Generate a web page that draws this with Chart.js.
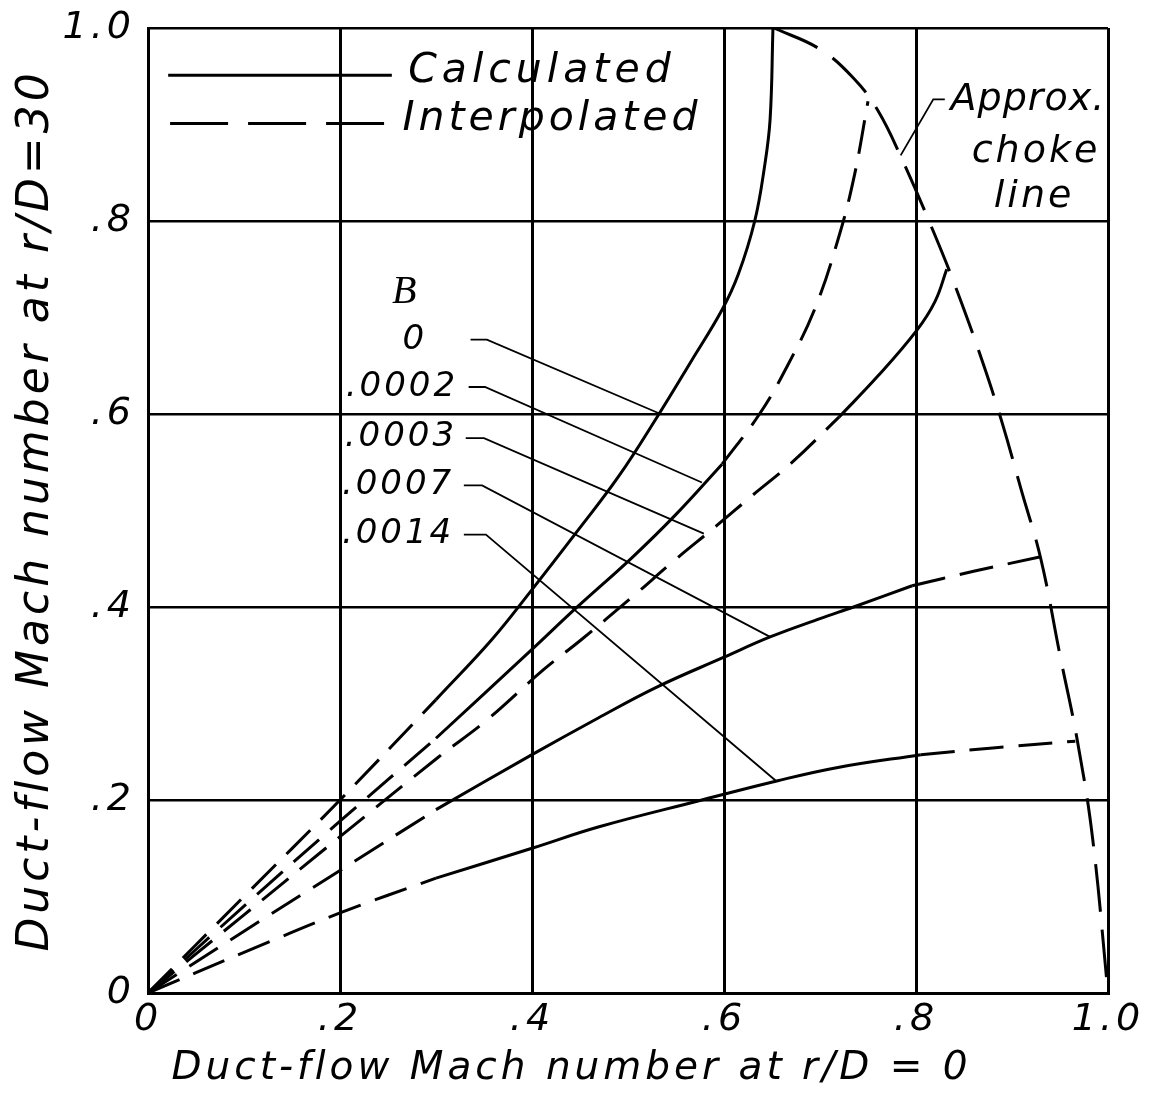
<!DOCTYPE html>
<html>
<head>
<meta charset="utf-8">
<title>Duct-flow Mach number at r/D = 30 vs r/D = 0</title>
<script src="https://cdn.jsdelivr.net/npm/chart.js@4.4.1/dist/chart.umd.min.js"></script>
<style>
  html, body { margin: 0; padding: 0; background: #fff; }
</style>
</head>
<body>
<canvas id="chart" width="1156" height="1094"></canvas>
<script>
// tick labels as lettered on the drawing
const xTickLabels = ["0", ".2", ".4", ".6", ".8", "1.0"];
const yTickLabels = ["0", ".2", ".4", ".6", ".8", "1.0"];

// B values labelling the curve family
const bLabels = ["0", ".0002", ".0003", ".0007", ".0014"];

// [x, y] pairs
// x = duct-flow Mach number at r/D = 0, y = at r/D = 30
const b0Interp = [[0, 0], [0.1, 0.1], [0.2, 0.2], [0.3, 0.304]];
const b0Calc = [[0.3, 0.304], [0.358, 0.366], [0.4, 0.418], [0.446, 0.477], [0.49, 0.535],
  [0.531, 0.598], [0.566, 0.655], [0.598, 0.708], [0.615, 0.745],
  [0.632, 0.8], [0.642, 0.855], [0.648, 0.905], [0.651, 1.0]];

const b2Interp = [[0, 0], [0.1, 0.09], [0.2, 0.178], [0.3, 0.264]];
const b2Calc = [[0.3, 0.264], [0.4, 0.356], [0.446, 0.399], [0.504, 0.451], [0.55, 0.496], [0.598, 0.548]];
const b2InterpTop = [[0.598, 0.548], [0.637, 0.6], [0.665, 0.648], [0.695, 0.71],
  [0.72, 0.785], [0.736, 0.848], [0.75, 0.924]];

const b3Interp = [[0, 0], [0.1, 0.081], [0.2, 0.162], [0.302, 0.244], [0.352, 0.282],
  [0.412, 0.335], [0.45, 0.365], [0.504, 0.41], [0.548, 0.448], [0.592, 0.484],
  [0.63, 0.516], [0.67, 0.549], [0.72, 0.597]];
const b3Calc = [[0.72, 0.597], [0.76, 0.639], [0.801, 0.687], [0.82, 0.717], [0.832, 0.75]];

const b7Interp = [[0, 0], [0.1, 0.064], [0.2, 0.127], [0.3, 0.19]];
const b7Calc = [[0.3, 0.19], [0.4, 0.247], [0.469, 0.285], [0.53, 0.317], [0.6, 0.348],
  [0.648, 0.369], [0.7, 0.388], [0.735, 0.4], [0.796, 0.422]];
const b7InterpTop = [[0.796, 0.422], [0.86, 0.437], [0.93, 0.452]];

const b14Interp = [[0, 0], [0.1, 0.042], [0.2, 0.083], [0.3, 0.119]];
const b14Calc = [[0.3, 0.119], [0.4, 0.15], [0.469, 0.172], [0.573, 0.199], [0.656, 0.22],
  [0.72, 0.234], [0.805, 0.247]];
const b14InterpTop = [[0.805, 0.247], [0.88, 0.254], [0.966, 0.261]];

const chokeLine = [[0.652, 1.0], [0.7, 0.978], [0.735, 0.948], [0.76, 0.915], [0.785, 0.865],
  [0.819, 0.787], [0.843, 0.727], [0.87, 0.652], [0.89, 0.59], [0.91, 0.52],
  [0.93, 0.45], [0.95, 0.35], [0.968, 0.262], [0.984, 0.16], [1.0, 0.0]];

// thin leader lines from the B labels to their curves
const leaderB0 = [[0.336, 0.677], [0.353, 0.677], [0.534, 0.6]];
const leaderB2 = [[0.334, 0.628], [0.351, 0.628], [0.577, 0.529]];
const leaderB3 = [[0.331, 0.575], [0.35, 0.575], [0.579, 0.476]];
const leaderB7 = [[0.329, 0.526], [0.348, 0.526], [0.648, 0.369]];
const leaderB14 = [[0.329, 0.475], [0.352, 0.475], [0.654, 0.22]];
const leaderChoke = [[0.83, 0.926], [0.818, 0.926], [0.784, 0.868]];

const ink = "#000";
const font = "'DejaVu Sans', sans-serif";
Chart.defaults.font.family = font;
Chart.defaults.color = ink;

const toPoints = (arr) => arr.map(([x, y]) => ({ x, y }));
const curve = (label, pts, dash) => ({
  label,
  data: toPoints(pts),
  showLine: true,
  borderColor: ink,
  borderWidth: 3,
  borderDash: dash || [],
  tension: 0.4,
  pointRadius: 0,
});
const leader = (label, pts) => ({
  label,
  data: toPoints(pts),
  showLine: true,
  borderColor: ink,
  borderWidth: 1.8,
  tension: 0,
  pointRadius: 0,
});

const curveDash = [34, 15];
const datasets = [
  curve("B = 0 interpolated", b0Interp, curveDash),
  curve("B = 0 calculated", b0Calc),
  curve("B = .0002 interpolated", b2Interp, curveDash),
  curve("B = .0002 calculated", b2Calc),
  curve("B = .0002 interpolated (upper)", b2InterpTop, curveDash),
  curve("B = .0003 interpolated", b3Interp, curveDash),
  curve("B = .0003 calculated", b3Calc),
  curve("B = .0007 interpolated", b7Interp, curveDash),
  curve("B = .0007 calculated", b7Calc),
  curve("B = .0007 interpolated (upper)", b7InterpTop, curveDash),
  curve("B = .0014 interpolated", b14Interp, curveDash),
  curve("B = .0014 calculated", b14Calc),
  curve("B = .0014 interpolated (upper)", b14InterpTop, curveDash),
  curve("Approx. choke line", chokeLine, [48, 18]),
  leader("leader 0", leaderB0),
  leader("leader .0002", leaderB2),
  leader("leader .0003", leaderB3),
  leader("leader .0007", leaderB7),
  leader("leader .0014", leaderB14),
  leader("leader choke", leaderChoke),
];

// lettering on the original is widely spaced
const spacing = {
  id: "spacing",
  beforeUpdate(chart) { chart.ctx.letterSpacing = "4px"; },
  beforeDraw(chart) { chart.ctx.letterSpacing = "4px"; },
};

// legend box, B labels and the choke-line note, placed in data units
const legendRows = [
  { text: "Calculated", dash: [], x0: 0.021, x1: 0.254, y: 0.951, tx: 0.271, ty: 0.955, gap: "5px" },
  { text: "Interpolated", dash: [58, 20], x0: 0.023, x1: 0.254, y: 0.901, tx: 0.265, ty: 0.905, gap: "4px" },
];
const bLabelPos = [[0.278, 0.677, "center"], [0.323, 0.628, "right"], [0.322, 0.576, "right"],
  [0.319, 0.526, "right"], [0.319, 0.475, "right"]];
const chokeNote = [
  { text: "Approx.", x: 0.836, y: 0.925, align: "left", gap: "1px" },
  { text: "choke", x: 0.925, y: 0.871, align: "center", gap: "3px" },
  { text: "line", x: 0.923, y: 0.825, align: "center", gap: "3px" },
];

const annotate = {
  id: "annotate",
  afterDatasetsDraw(chart) {
    const { ctx, scales: { x, y } } = chart;
    const px = (v) => x.getPixelForValue(v);
    const py = (v) => y.getPixelForValue(v);
    ctx.save();
    ctx.fillStyle = ink;
    ctx.strokeStyle = ink;
    ctx.textBaseline = "middle";

    // legend
    ctx.lineWidth = 3;
    ctx.font = `italic 41px ${font}`;
    legendRows.forEach((r) => {
      ctx.setLineDash(r.dash);
      ctx.beginPath();
      ctx.moveTo(px(r.x0), py(r.y));
      ctx.lineTo(px(r.x1), py(r.y));
      ctx.stroke();
      ctx.letterSpacing = r.gap;
      ctx.textAlign = "left";
      ctx.fillText(r.text, px(r.tx), py(r.ty));
    });
    ctx.setLineDash([]);

    // B heading and values
    ctx.letterSpacing = "0px";
    ctx.textAlign = "center";
    ctx.font = `italic 40px 'Liberation Serif', serif`;
    ctx.fillText("B", px(0.267), py(0.726));
    ctx.font = `italic 34px ${font}`;
    ctx.letterSpacing = "3px";
    bLabels.forEach((t, i) => {
      const [lx, ly, align] = bLabelPos[i];
      ctx.textAlign = align;
      ctx.fillText(t, px(lx), py(ly));
    });

    // choke line note
    ctx.font = `italic 38px ${font}`;
    chokeNote.forEach((n) => {
      ctx.letterSpacing = n.gap;
      ctx.textAlign = n.align;
      ctx.fillText(n.text, px(n.x), py(n.y));
    });
    ctx.restore();
  },
};

new Chart(document.getElementById("chart"), {
  type: "scatter",
  data: { datasets },
  options: {
    responsive: false,
    animation: false,
    devicePixelRatio: 1,
    layout: { padding: { top: 28, right: 48, left: 0, bottom: 0 } },
    plugins: {
      legend: { display: false },
      tooltip: { enabled: false },
    },
    scales: {
      x: {
        type: "linear",
        min: 0,
        max: 1,
        ticks: {
          stepSize: 0.2,
          padding: 4,
          maxRotation: 0,
          color: ink,
          font: { size: 38, style: "italic" },
          callback: (v, i) => xTickLabels[i],
        },
        grid: { color: ink, lineWidth: 3, drawTicks: false },
        border: { color: ink, width: 3 },
        title: {
          display: true,
          text: "\u2002Duct-flow Mach number at r/D = 0",
          align: "start",
          color: ink,
          font: { size: 39, style: "italic" },
          padding: { top: 0, bottom: 2 },
        },
        afterFit: (scale) => { scale.height = 101; },
      },
      y: {
        type: "linear",
        min: 0,
        max: 1,
        ticks: {
          stepSize: 0.2,
          padding: 13,
          color: ink,
          font: { size: 38, style: "italic", lineHeight: 0.78 },
          callback: (v, i) => yTickLabels[i],
        },
        grid: { color: ink, lineWidth: 2.5, drawTicks: false },
        border: { color: ink, width: 3 },
        title: {
          display: true,
          text: "Duct-flow Mach number at r/D=30",
          color: ink,
          font: { size: 44, style: "italic" },
          padding: { top: 10, bottom: 0 },
        },
        afterFit: (scale) => { scale.width = 148; },
      },
    },
  },
  plugins: [spacing, annotate],
});
</script>
</body>
</html>
